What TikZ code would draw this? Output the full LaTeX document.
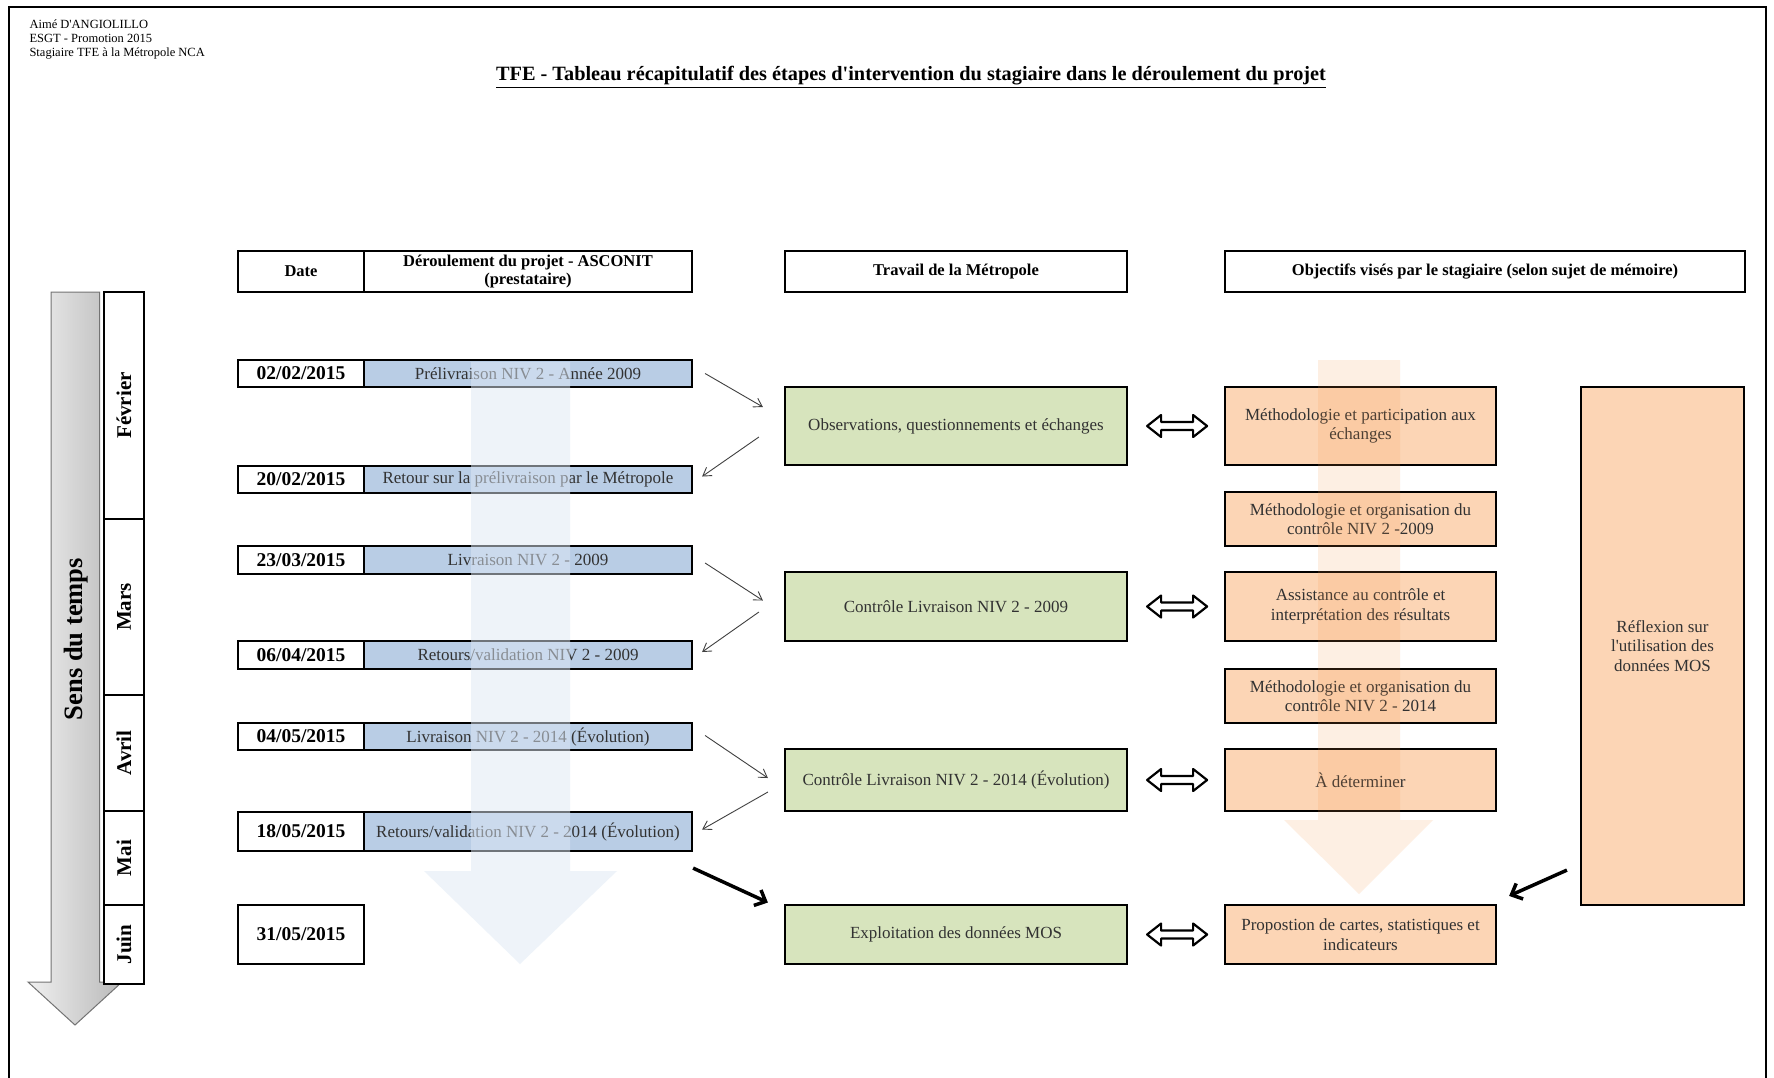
\documentclass[tikz,border=0pt]{standalone}
\usepackage{fontspec}
\setmainfont{Liberation Serif}[Ligatures=TeXOff]
\usetikzlibrary{arrows.meta,calc}
\definecolor{bluebox}{RGB}{185,205,229}
\definecolor{greenbox}{RGB}{215,228,189}
\definecolor{orangebox}{RGB}{252,213,181}
\definecolor{txt}{RGB}{50,50,50}
\definecolor{bluefade}{RGB}{222,232,245}
\definecolor{orangefade}{RGB}{247,150,70}
\tikzset{
  cell/.style={draw=black, line width=2.2pt, inner sep=2pt, align=center, text=txt,
    font=\fontsize{17}{19.5}\selectfont},
  hdr/.style={cell, fill=white, text=black, minimum height=41pt,
    font=\bfseries\fontsize{16.5}{18.5}\selectfont},
  datecell/.style={cell, fill=white, text=black, minimum width=126pt,
    font=\bfseries\fontsize{19.5}{22}\selectfont},
  desc/.style={cell, fill=bluebox, minimum width=328pt},
  green/.style={cell, fill=greenbox, minimum width=342pt},
  orange/.style={cell, fill=orangebox, minimum width=271pt},
  month/.style={draw=black, line width=2.2pt, fill=white, rotate=90, minimum height=40pt,
    inner sep=0pt, font=\bfseries\fontsize{21}{24}\selectfont},
  thinarr/.style={draw=black!75, line width=0.9pt, -{Straight Barb[length=8pt,width=10pt]}},
  thickarr/.style={draw=black, line width=3.5pt, -{Straight Barb[length=9pt,width=17pt]}},
  dbl/.style={draw=black, line width=2.2pt, fill=white, line join=round},
}
\begin{document}
\begin{tikzpicture}[x=1pt,y=-1pt]
\useasboundingbox (0,0) rectangle (1774,1077);
\fill[white] (0,0) rectangle (1774,1077);
% frame
\draw[line width=2.5pt] (9,1090) -- (9,7) -- (1766,7) -- (1766,1090);
% top-left info
\begin{scope}[every node/.style={anchor=west, font=\fontsize{12.5}{15}\selectfont}]
\node (au) at (26,24) {Aimé D'ANGIOLILLO};
\node (es) at (26,38.5) {ESGT - Promotion 2015};
\node (st) at (26,53) {Stagiaire TFE à la Métropole NCA};
\end{scope}
\node[font=\bfseries\fontsize{20.3}{24}\selectfont] (title) at (911,77)
  {\underline{TFE - Tableau récapitulatif des étapes d'intervention du stagiaire dans le déroulement du projet}};
% time arrow
\path[draw=black!55, line width=1pt, left color=gray!12, right color=gray!55]
  (51,292) -- (99.6,292) -- (99.6,982) -- (122,982) -- (75,1025) -- (28,982) -- (51,982) -- cycle;
\node[rotate=90, font=\bfseries\fontsize{26.5}{30}\selectfont] (sens) at (76,639) {Sens du temps};
% months
\node[month, minimum width=227pt] (feb) at (124,405.5) {Février};
\node[month, minimum width=176pt] (mar) at (124,607) {Mars};
\node[month, minimum width=116pt] (avr) at (124,753) {Avril};
\node[month, minimum width=94pt] (mai) at (124,858) {Mai};
\node[month, minimum width=79pt] (jui) at (124,944.5) {Juin};
% headers
\node[hdr, minimum width=126pt] (hdate) at (301,271.5) {Date};
\node[hdr, minimum width=328pt] (hder) at (528,271.5) {Déroulement du projet - ASCONIT\\(prestataire)};
\node[hdr, minimum width=342pt] (htrav) at (956,271.5) {Travail de la Métropole};
\node[hdr, minimum width=520pt] (hobj) at (1485,271.5) {Objectifs visés par le stagiaire (selon sujet de mémoire)};
% dates and project steps
\node[datecell, minimum height=27pt] (d1) at (301,373.5) {02/02/2015};
\node[desc, minimum height=27pt] (b1) at (528,373.5) {Prélivraison NIV 2 - Année 2009};
\node[datecell, minimum height=27pt] (d2) at (301,479.5) {20/02/2015};
\node[desc, minimum height=27pt] (b2) at (528,479.5) {Retour sur la prélivraison par le Métropole};
\node[datecell, minimum height=28pt] (d3) at (301,560) {23/03/2015};
\node[desc, minimum height=28pt] (b3) at (528,560) {Livraison NIV 2 - 2009};
\node[datecell, minimum height=28pt] (d4) at (301,655) {06/04/2015};
\node[desc, minimum height=28pt] (b4) at (528,655) {Retours/validation NIV 2 - 2009};
\node[datecell, minimum height=27pt] (d5) at (301,736.5) {04/05/2015};
\node[desc, minimum height=27pt] (b5) at (528,736.5) {Livraison NIV 2 - 2014 (Évolution)};
\node[datecell, minimum height=39pt] (d6) at (301,831.5) {18/05/2015};
\node[desc, minimum height=39pt] (b6) at (528,831.5) {Retours/validation NIV 2 - 2014 (Évolution)};
\node[datecell, minimum height=59pt] (d7) at (301,934.5) {31/05/2015};
% Metropole work
\node[green, minimum height=78pt] (g1) at (956,426) {Observations, questionnements et échanges};
\node[green, minimum height=69pt] (g2) at (956,606.5) {Contrôle Livraison NIV 2 - 2009};
\node[green, minimum height=62pt] (g3) at (956,780) {Contrôle Livraison NIV 2 - 2014 (Évolution)};
\node[green, minimum height=59pt] (g4) at (956,934.5) {Exploitation des données MOS};
% trainee objectives
\node[orange, minimum height=78pt] (o1) at (1360.5,426) {Méthodologie et participation aux\\échanges};
\node[orange, minimum height=54pt] (o2) at (1360.5,519) {Méthodologie et organisation du\\contrôle NIV 2 -2009};
\node[orange, minimum height=69pt] (o3) at (1360.5,606.5) {Assistance au contrôle et\\interprétation des résultats};
\node[orange, minimum height=54pt] (o4) at (1360.5,696) {Méthodologie et organisation du\\contrôle NIV 2 - 2014};
\node[orange, minimum height=62pt] (o5) at (1360.5,780) {À déterminer};
\node[orange, minimum height=59pt] (o6) at (1360.5,934.5) {Propostion de cartes, statistiques et\\indicateurs};
\node[orange, minimum width=163pt, minimum height=518pt] (refl) at (1662.5,646) {Réflexion sur\\l'utilisation des\\données MOS};
% faded background arrows
\fill[bluefade, fill opacity=0.5] (471,362) -- (570,362) -- (570,871) -- (617,871) -- (520,964) -- (424,871) -- (471,871) -- cycle;
\fill[orangefade, fill opacity=0.15] (1318,360) -- (1400,360) -- (1400,820) -- (1433,820) -- (1359,894) -- (1284,820) -- (1318,820) -- cycle;
% thin arrows
\draw[thinarr] ($(b1.east)+(12,0)$) -- ($(g1.west)+(-21,-19)$);
\draw[thinarr] ($(g1.west)+(-25,11)$) -- ($(b2.east)+(9,-3)$);
\draw[thinarr] ($(b3.east)+(12,3)$) -- ($(g2.west)+(-21,-6)$);
\draw[thinarr] ($(g2.west)+(-25,5.5)$) -- ($(b4.east)+(9,-3)$);
\draw[thinarr] ($(b5.east)+(12,-1)$) -- ($(g3.west)+(-16,-2)$);
\draw[thinarr] ($(g3.west)+(-16,12)$) -- ($(b6.east)+(9,-2)$);
% thick arrows
\draw[thickarr] ($(b6.south east)+(0,16)$) -- ($(g4.west)+(-16,-32)$);
\draw[thickarr] ($(refl.south west)+(-13,-36)$) -- ($(o6.north east)+(12,-8)$);
% double arrows
\foreach \g in {g1,g2,g3,g4}{
  \draw[dbl] ($(\g.east)+(19,0)$) -- ++(14,-11) -- ++(0,7) -- ++(32,0) -- ++(0,-7) -- ++(14,11)
    -- ++(-14,11) -- ++(0,-7) -- ++(-32,0) -- ++(0,7) -- cycle;
}
\end{tikzpicture}
\end{document}
